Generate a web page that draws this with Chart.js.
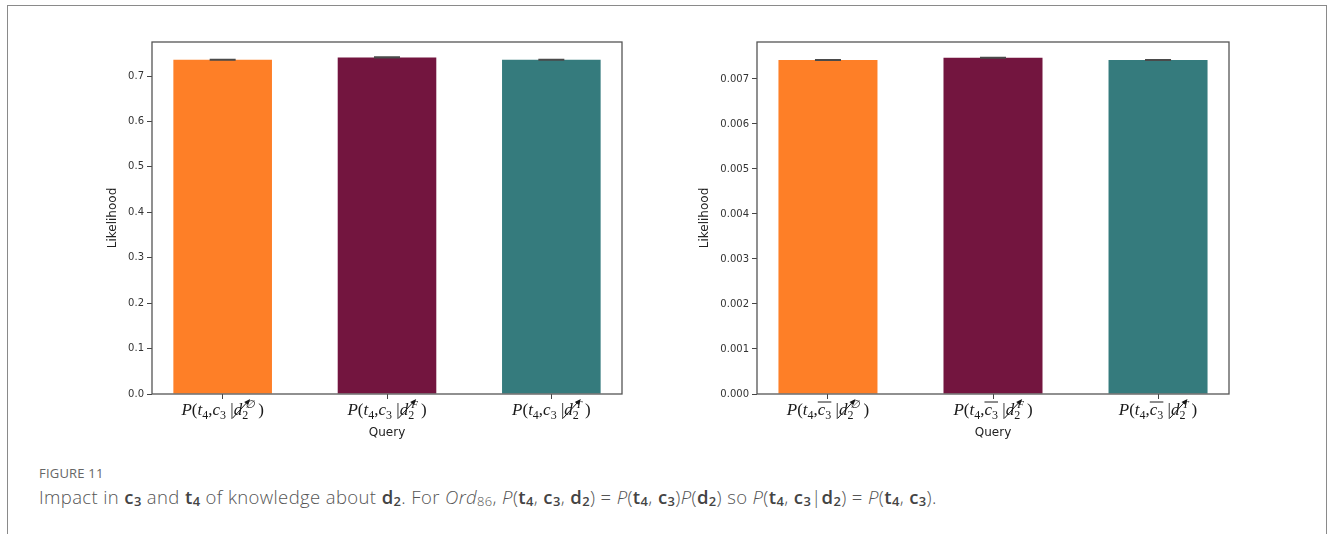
<!DOCTYPE html>
<html>
<head>
<meta charset="utf-8">
<script src="https://cdn.jsdelivr.net/npm/chart.js@4"></script>
<style>
  html, body { margin: 0; padding: 0; background: #fff; }
  body { width: 1330px; height: 534px; position: relative; overflow: hidden; }
  .frame { position: absolute; left: 7px; top: 5px; width: 1320px; height: 540px;
           border: 1.5px solid #8a8a8a; border-bottom: none; box-sizing: border-box; }
  .box { position: absolute; }
  .cap-head { position: absolute; left: 39px; top: 464px; font-family: "Open Sans", sans-serif;
              font-size: 13px; color: #666; letter-spacing: 0.2px; }
  .cap { position: absolute; left: 39px; top: 484px; font-family: "Open Sans", sans-serif;
         font-size: 18.5px; font-weight: 300; color: #555; white-space: nowrap; letter-spacing: 0.38px; }
  .cap b { font-weight: 600; color: #444; }
  .cap sub { font-size: 70%; vertical-align: -2px; line-height: 0; }
</style>
</head>
<body>
<div class="frame"></div>
<div class="box" style="left:102px; top:30px; width:540px; height:420px;"><canvas id="left"></canvas></div>
<div class="box" style="left:694px; top:30px; width:555px; height:420px;"><canvas id="right"></canvas></div>
<div class="cap-head">FIGURE 11</div>
<div class="cap">Impact in <b>c<sub>3</sub></b> and <b>t<sub>4</sub></b> of knowledge about <b>d<sub>2</sub></b>. For <i>Ord</i><sub>86</sub>, <i>P</i>(<b>t<sub>4</sub></b>, <b>c<sub>3</sub></b>, <b>d<sub>2</sub></b>) = <i>P</i>(<b>t<sub>4</sub></b>, <b>c<sub>3</sub></b>)<i>P</i>(<b>d<sub>2</sub></b>) so <i>P</i>(<b>t<sub>4</sub></b>, <b>c<sub>3</sub></b>|<b>d<sub>2</sub></b>) = <i>P</i>(<b>t<sub>4</sub></b>, <b>c<sub>3</sub></b>).</div>

<script>
// evidence states on d2 (superscripts in the tick labels)
const evidence = ['\u2205', 'F', 'T'];
// left panel: P(t4, c3 | d2^e)
const likelihoodC3 = [0.736, 0.741, 0.736];
const errC3 = [0.0006, 0.0006, 0.0006];
// right panel: P(t4, not c3 | d2^e)
const likelihoodNotC3 = [0.00742, 0.00747, 0.00742];
const errNotC3 = [0.000006, 0.000006, 0.000006];
const barColors = ['#fe7f27', '#73153f', '#357b7d'];
const yMaxLeft = 0.775, yStepLeft = 0.1;
const yMaxRight = 0.00782, yStepRight = 0.001;

// draws a matplotlib-ish mathtext label  P(t4,c3 |d2^e)
function drawMathLabel(ctx, cx, base, sup, negated) {
  const fs = 17, ss = 12;
  const ital = fs + 'px "Liberation Serif", serif';
  const rom = fs + 'px "Liberation Serif", serif';
  const parts = [
    { t: 'P', f: 'italic ' + ital },
    { t: '(', f: rom },
    { t: 't', f: 'italic ' + ital },
    { t: '4', f: ss + 'px "Liberation Serif", serif', dy: 4 },
    { t: ',', f: rom },
    { t: 'c', f: 'italic ' + ital, over: negated },
    { t: '3', f: ss + 'px "Liberation Serif", serif', dy: 4, over: negated },
    { t: ' |', f: rom },
    { t: 'd', f: 'italic ' + ital, slash: true },
    { t: '2', f: ss + 'px "Liberation Serif", serif', dy: 4, sup: sup },
    { t: ')', f: rom, pre: 3 }
  ];
  const supFont = 'italic 11px "Liberation Serif", serif';
  let total = 0;
  parts.forEach(p => {
    ctx.font = p.f;
    p.w = ctx.measureText(p.t).width;
    if (p.sup) { ctx.font = supFont; p.w = Math.max(p.w, ctx.measureText(p.sup).width + 3); }
    total += p.w + (p.pre || 0);
  });
  let x = cx - total / 2;
  let overStart = null, overEnd = null;
  ctx.fillStyle = '#1a1a1a';
  ctx.textAlign = 'left';
  ctx.textBaseline = 'alphabetic';
  parts.forEach(p => {
    x += p.pre || 0;
    ctx.font = p.f;
    ctx.fillText(p.t, x, base + (p.dy || 0));
    if (p.sup) {
      ctx.font = supFont;
      ctx.fillText(p.sup, x + 3, base - 7);
    }
    if (p.over) {
      if (overStart === null) overStart = x;
      overEnd = x + p.w;
    }
    if (p.slash) {
      ctx.save();
      ctx.strokeStyle = '#1a1a1a';
      ctx.lineWidth = 1;
      ctx.beginPath();
      ctx.moveTo(x - 1, base + 3);
      ctx.lineTo(x + p.w + 7, base - 15);
      ctx.stroke();
      ctx.beginPath();
      ctx.moveTo(x + p.w + 8, base - 16);
      ctx.lineTo(x + p.w + 2, base - 13);
      ctx.lineTo(x + p.w + 6, base - 10);
      ctx.closePath();
      ctx.fill();
      ctx.restore();
    }
    x += p.w;
  });
  if (overStart !== null) {
    ctx.save();
    ctx.strokeStyle = '#1a1a1a';
    ctx.lineWidth = 1;
    ctx.beginPath();
    ctx.moveTo(overStart, base - 13);
    ctx.lineTo(overEnd, base - 13);
    ctx.stroke();
    ctx.restore();
  }
}

const panelDecor = {
  id: 'panelDecor',
  afterDatasetsDraw(chart, args, opts) {
    const { ctx, chartArea: a, scales: { x, y } } = chart;
    const data = chart.data.datasets[0].data;
    ctx.save();
    // error bars
    ctx.strokeStyle = '#4a4a4a';
    ctx.lineWidth = 1.6;
    opts.err.forEach((e, i) => {
      const px = x.getPixelForValue(data[i].x);
      const y1 = y.getPixelForValue(data[i].y - e);
      const y2 = y.getPixelForValue(data[i].y + e);
      ctx.beginPath();
      ctx.moveTo(px, y1); ctx.lineTo(px, y2);
      ctx.moveTo(px - 13, y1); ctx.lineTo(px + 13, y1);
      ctx.moveTo(px - 13, y2); ctx.lineTo(px + 13, y2);
      ctx.stroke();
    });
    // axes frame
    ctx.strokeStyle = '#555';
    ctx.lineWidth = 1.3;
    ctx.strokeRect(a.left, a.top, a.width, a.height);
    ctx.restore();
  },
  afterDraw(chart, args, opts) {
    const { ctx, scales: { x } } = chart;
    ctx.save();
    evidence.forEach((e, i) => {
      drawMathLabel(ctx, x.getPixelForValue(i), chart.chartArea.bottom + 21, e, opts.negated);
    });
    ctx.restore();
  }
};

function makePanel(id, values, err, yMax, yStep, decimals, yWidth, negated) {
  new Chart(document.getElementById(id), {
    type: 'bar',
    data: {
      datasets: [{
        data: values.map((v, i) => ({ x: i, y: v })),
        backgroundColor: barColors,
        borderWidth: 0,
        barPercentage: 0.6,
        categoryPercentage: 1.0
      }]
    },
    options: {
      responsive: true,
      maintainAspectRatio: false,
      animation: false,
      layout: { padding: { top: 12, right: 20, bottom: 0, left: 0 } },
      plugins: {
        legend: { display: false },
        tooltip: { enabled: false },
        panelDecor: { err: err, negated: negated }
      },
      scales: {
        x: {
          type: 'linear',
          min: -0.43,
          max: 2.43,
          offset: false,
          afterBuildTicks: axis => { axis.ticks = evidence.map((e, i) => ({ value: i })); },
          afterFit: scale => { scale.height = 56; },
          grid: { offset: false, drawOnChartArea: false, drawTicks: true, tickLength: 5, color: '#444' },
          border: { display: false },
          ticks: { display: false },
          title: {
            display: true, text: 'Query', color: '#222',
            font: { family: 'DejaVu Sans', size: 12 },
            padding: { top: 4, bottom: 10 }
          }
        },
        y: {
          min: 0,
          max: yMax,
          afterFit: scale => { scale.width = yWidth; },
          grid: { drawOnChartArea: false, drawTicks: true, tickLength: 5, color: '#444' },
          border: { display: false },
          ticks: {
            stepSize: yStep,
            includeBounds: false,
            color: '#333',
            padding: 3,
            font: { family: 'DejaVu Sans', size: 10 },
            callback: v => v.toFixed(decimals)
          },
          title: {
            display: true, text: 'Likelihood', color: '#222',
            font: { family: 'DejaVu Sans', size: 12 },
            padding: { top: 4, bottom: 4 }
          }
        }
      }
    },
    plugins: [panelDecor]
  });
}

makePanel('left', likelihoodC3, errC3, yMaxLeft, yStepLeft, 1, 50, false);
makePanel('right', likelihoodNotC3, errNotC3, yMaxRight, yStepRight, 3, 63, true);
</script>
</body>
</html>
